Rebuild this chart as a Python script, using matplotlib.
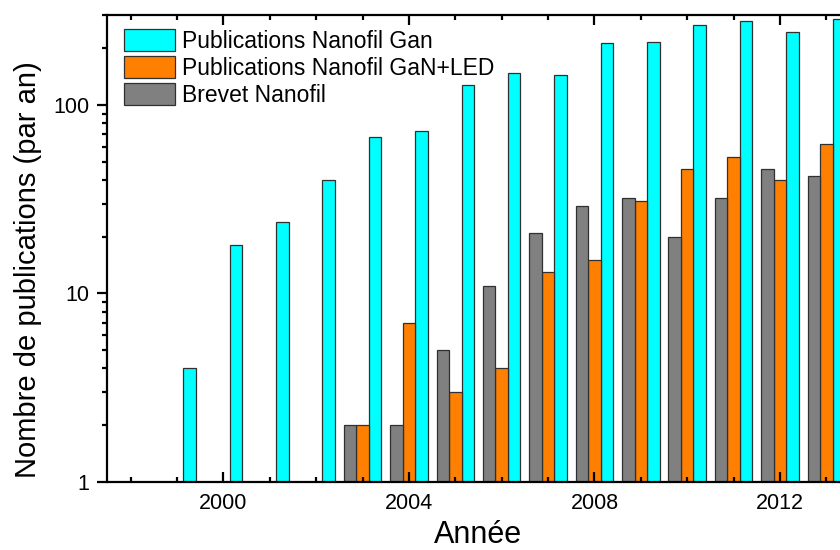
import matplotlib
matplotlib.use("Agg")
import matplotlib.pyplot as plt
import numpy as np
from matplotlib.ticker import FixedLocator, FixedFormatter, LogLocator, NullFormatter

plt.rcParams['font.family'] = ['Liberation Sans', 'DejaVu Sans']

# -----------------------------
# Données
# -----------------------------
years = np.arange(1999, 2014)
pub_gan = [4, 18, 24, 40, 68, 73, 128, 147, 145, 214, 216, 266, 278, 243, 284]
pub_gan_led = [np.nan, np.nan, np.nan, np.nan, 2, 7, 3, 4, 13, 15, 31, 46, 53, 40, 62]
brevet = [np.nan, np.nan, np.nan, np.nan, 2, 2, 5, 11, 21, 29, 32, 20, 32, 46, 42]

labels = ['Publications Nanofil Gan', 'Publications Nanofil GaN+LED', 'Brevet Nanofil']
colors = ['#00FFFF', '#FF8000', '#808080']
major_years = [2000, 2004, 2008, 2012]

# -----------------------------
# Figure
# -----------------------------
fig = plt.figure(figsize=(8.4, 5.5), dpi=100)
ax = fig.add_axes([107.5 / 840, 1 - 482 / 550, 742 / 840, 467 / 550])

w = 0.27
edge = dict(edgecolor='#303030', linewidth=0.9)
b_gan = ax.bar(years + w, pub_gan, w, color=colors[0], bottom=1e-3, **edge)
b_led = ax.bar(years, pub_gan_led, w, color=colors[1], bottom=1e-3, **edge)
b_brev = ax.bar(years - w, brevet, w, color=colors[2], bottom=1e-3, **edge)

ax.set_yscale('log')
ax.set_ylim(1, 300)
ax.set_xlim(1997.5, 2013.5)

ax.xaxis.set_major_locator(FixedLocator(major_years))
ax.xaxis.set_minor_locator(FixedLocator(years.tolist() + [1998]))
ax.yaxis.set_major_locator(FixedLocator([1, 10, 100]))
ax.yaxis.set_major_formatter(FixedFormatter(['1', '10', '100']))
ax.yaxis.set_minor_locator(LogLocator(base=10, subs=np.arange(2, 10)))
ax.yaxis.set_minor_formatter(NullFormatter())

for s in ax.spines.values():
    s.set_linewidth(1.6)

ax.tick_params(axis='x', which='both', direction='in', top=True, width=1.6, labelsize=15.5, pad=8)
ax.tick_params(axis='x', which='major', length=7.5)
ax.tick_params(axis='x', which='minor', length=3.5)
ax.tick_params(axis='y', which='both', direction='out', width=1.6, labelsize=15.5, pad=5.5)
ax.tick_params(axis='y', which='major', length=7.5)
ax.tick_params(axis='y', which='minor', length=3.5)

right = ax.secondary_yaxis('right')
right.tick_params(which='both', direction='in', labelright=False, width=1.6)
right.tick_params(which='major', length=8)
right.tick_params(which='minor', length=4)

ax.set_xlabel('Année', fontsize=22, labelpad=4.5)
ax.set_ylabel('Nombre de publications (par an)', fontsize=21)
ax.yaxis.set_label_coords(-0.088, 0.454)

ax.legend([b_gan, b_led, b_brev], labels, loc='upper left', bbox_to_anchor=(0.0216, 0.969),
          frameon=False, fontsize=16.5, borderpad=0, borderaxespad=0,
          handlelength=2.24, handleheight=1.09, handletextpad=0.32, labelspacing=0.14)

fig.savefig('out.png', dpi=100)
